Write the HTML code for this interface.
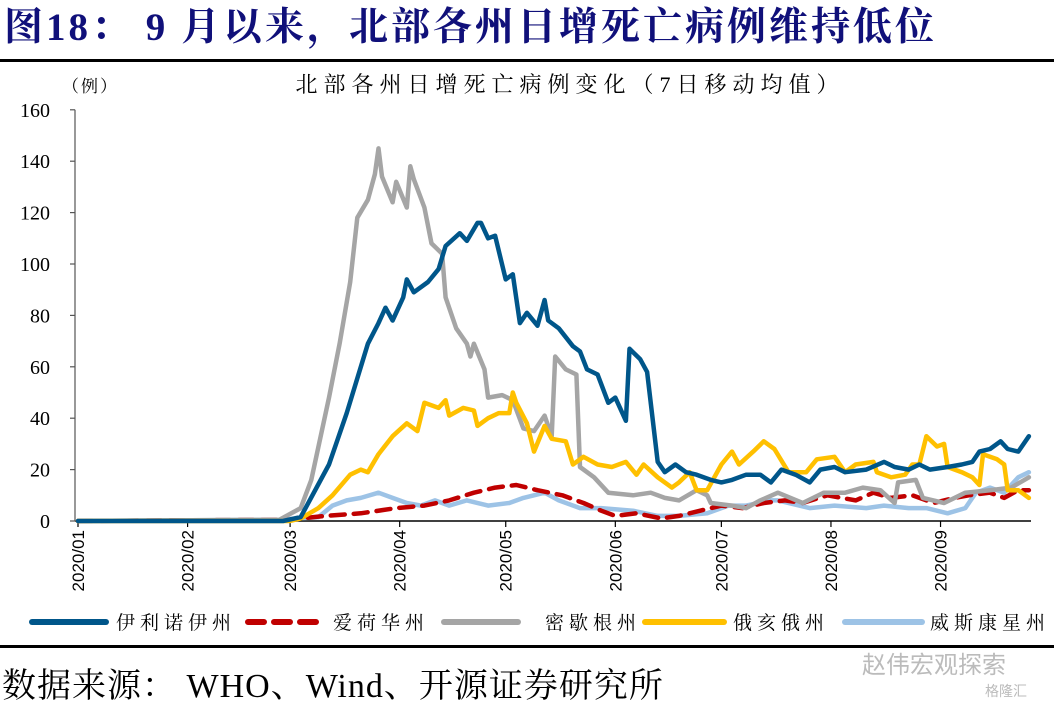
<!DOCTYPE html>
<html><head><meta charset="utf-8">
<style>
body{margin:0;background:#fff;width:1054px;height:707px;overflow:hidden;position:relative;font-family:"Liberation Serif","Noto Serif CJK SC",serif}
.abs{position:absolute;white-space:nowrap}
</style></head>
<body>
<div class="abs" style="left:4px;top:-4px;font-size:39px;font-weight:bold;color:#10107a;letter-spacing:3px">图18：&nbsp;9 月以来，北部各州日增死亡病例维持低位</div>
<div class="abs" style="left:0;top:59px;width:1054px;height:3px;background:#000"></div>
<div class="abs" style="left:0;top:645px;width:1054px;height:3px;background:#000"></div>
<div class="abs" style="left:2px;top:658px;font-size:34px;color:#000;letter-spacing:1px">数据来源：&nbsp;WHO、Wind、开源证券研究所</div>
<div class="abs" style="left:862px;top:645px;font-size:24px;color:#bbb;font-family:'Liberation Sans','Noto Sans CJK SC',sans-serif">赵伟宏观探索</div>
<div class="abs" style="left:985px;top:681px;font-size:14px;color:#bbb;font-family:'Liberation Sans','Noto Sans CJK SC',sans-serif">格隆汇</div>
<svg id="chart" width="1054" height="707" style="position:absolute;left:0;top:0" xmlns="http://www.w3.org/2000/svg"></svg>
<script>
const yTicks=[0,20,40,60,80,100,120,140,160];
const monthLabels=['2020/01','2020/02','2020/03','2020/04','2020/05','2020/06','2020/07','2020/08','2020/09'];
const monthStartDays=[0,31,60,91,121,152,182,213,244];
const seriesNames=['伊利诺伊州','爱荷华州','密歇根州','俄亥俄州','威斯康星州'];
const ilDays=[0,58,63,71,76,82,85,87,89,92,93,95,99,102,104,108,110,113,114,116,118,121,123,125,127,130,132,133,136,140,142,144,147,150,152,155,156,159,161,164,166,169,172,175,179,182,185,189,193,196,199,203,207,210,214,217,223,228,231,235,238,241,246,250,253,255,258,261,263,266,269];
const ilVals=[0,0,1.5,22,42,69,77,83,78,87,94,89,93,98,107,112,109,116,116,110,111,94,96,77,81,76,86,78,75,68,66,59,57,46,48,39,67,63,58,23,19,22,19,18,16,15,16,18,18,15,20,18,15,20,21,19,20,23,21,20,22,20,21,22,23,27,28,31,28,27,33];
const iaDays=[0,60,70,80,90,98,105,112,118,124,130,137,143,148,152,158,165,170,176,182,188,194,200,205,212,220,225,230,236,242,248,252,258,262,266,269];
const iaVals=[0,0.5,2,3,5,6,8,11,13,14,12,10,7,4,2,3,1,2,4,6,5,7,8,7,10,8,11,9,10,7,9,10,11,9,12,12];
const miDays=[0,57,63,66,71,74,77,79,82,84,85,86,89,90,93,94,95,98,100,103,104,107,110,111,112,115,116,120,123,126,129,132,134,135,138,141,142,146,150,157,162,166,170,175,178,179,185,189,193,198,205,211,217,222,227,231,232,237,239,245,251,258,264,269];
const miVals=[0,0.5,5,16,48,69,93,118,125,135,145,134,124,132,122,138,133,122,108,104,87,75,69,64,69,59,48,49,47,36,35,41,33,64,59,57,21,17,11,10,11,9,8,12,10,7,6,5,8,11,7,11,11,13,12,7,15,16,9,7,11,12,13,17];
const ohDays=[0,60,63,68,72,77,80,82,85,89,93,96,98,102,104,105,109,112,113,116,119,122,123,124,127,129,132,134,138,140,143,147,151,155,158,160,164,168,170,173,175,178,182,185,187,191,194,197,201,206,209,214,217,220,225,226,230,234,236,238,240,243,245,246,250,253,255,256,260,262,263,266,269];
const ohVals=[0,0,1,5,10,18,20,19,26,33,38,35,46,44,47,41,44,43,37,40,42,42,50,46,38,27,37,32,31,22,25,22,21,23,18,22,17,13,15,19,12,12,22,27,22,27,31,28,19,19,24,25,19,22,23,19,17,18,22,22,33,29,30,21,19,17,14,26,24,22,12,12,9];
const wiDays=[0,57,68,72,76,80,85,89,93,97,101,105,110,116,122,126,132,136,142,148,157,164,170,178,184,189,196,198,207,214,223,228,235,240,246,251,254,258,262,266,269];
const wiVals=[0,0.5,1.5,6,8,9,11,9,7,6,8,6,8,6,7,9,11,8,5,5,4,2,2,3,6,6,8,8,5,6,5,6,5,5,3,5,11,13,11,17,19];

const svg=document.getElementById('chart');
const NS='http://www.w3.org/2000/svg';
const X0=78,DX=3.535,Y0=521,DY=2.57;
const xs=d=>X0+d*DX, ys=v=>Y0-v*DY;
function mk(tag,attrs){const e=document.createElementNS(NS,tag);for(const k in attrs)e.setAttribute(k,attrs[k]);svg.appendChild(e);return e;}
let t=mk('text',{x:570,y:92,'text-anchor':'middle','font-size':22,'letter-spacing':'6','font-family':'"Liberation Serif","Noto Serif CJK SC",serif'});
t.textContent='北部各州日增死亡病例变化（7日移动均值）';


t=mk('text',{x:62,y:92,'font-size':17,'letter-spacing':'2','font-family':'"Liberation Serif","Noto Serif CJK SC",serif'});
t.textContent='（例）';


let ax=mk('line',{x1:75,y1:Y0,x2:1031,y2:Y0,stroke:'#000','stroke-width':1.5});


ax=mk('line',{x1:75,y1:ys(160),x2:75,y2:Y0,stroke:'#555','stroke-width':1.2});


yTicks.forEach(v=>{
  const tk=mk('line',{x1:70,y1:ys(v),x2:75,y2:ys(v),stroke:'#555','stroke-width':1.2});
  
  
  const lb=mk('text',{x:50,y:ys(v)+7,'text-anchor':'end','font-size':20,'font-family':'"Liberation Serif",serif'});
  lb.textContent=v;
  
  
});
monthStartDays.forEach((d,i)=>{
  const x=xs(d);
  const tk=mk('line',{x1:x,y1:Y0,x2:x,y2:Y0+6,stroke:'#000','stroke-width':1.2});
  
  
  const lb=mk('text',{x:0,y:0,'text-anchor':'end','font-size':17,'font-family':'"Liberation Sans",sans-serif',transform:`translate(${x+6},${Y0+9}) rotate(-90)`});
  lb.textContent=monthLabels[i];
  
  
});
const series=[
 {d:wiDays,v:wiVals,c:'#9dc3e6',dash:null,n:'wisconsin-line'},
 {d:iaDays,v:iaVals,c:'#c00000',dash:'14 9',n:'iowa-line'},
 {d:miDays,v:miVals,c:'#a5a5a5',dash:null,n:'michigan-line'},
 {d:ohDays,v:ohVals,c:'#ffc000',dash:null,n:'ohio-line'},
 {d:ilDays,v:ilVals,c:'#00568a',dash:null,n:'illinois-line'}
];
series.forEach(s=>{
  const pts=s.d.map((d,i)=>xs(d).toFixed(1)+','+ys(s.v[i]).toFixed(1)).join(' ');
  const p=mk('polyline',{points:pts,fill:'none',stroke:s.c,'stroke-width':4.5,'stroke-linejoin':'round','stroke-linecap':'round'});
  if(s.dash)p.setAttribute('stroke-dasharray',s.dash);
  
  
});
const leg=[[32,106,116,'#00568a',null],[248,316,333,'#c00000','16 10'],[444,518,545,'#a5a5a5',null],[645,724,733,'#ffc000',null],[845,922,930,'#9dc3e6',null]];
leg.forEach((l,i)=>{
  const ln=mk('line',{x1:l[0],y1:622,x2:l[1],y2:622,stroke:l[3],'stroke-width':6,'stroke-linecap':'round'});
  if(l[4])ln.setAttribute('stroke-dasharray',l[4]);
  
  
  const tx=mk('text',{x:l[2],y:629,'font-size':19,'letter-spacing':'5','font-family':'"Liberation Serif","Noto Serif CJK SC",serif'});
  tx.textContent=seriesNames[i];
  
  
});
</script>
</body></html>
